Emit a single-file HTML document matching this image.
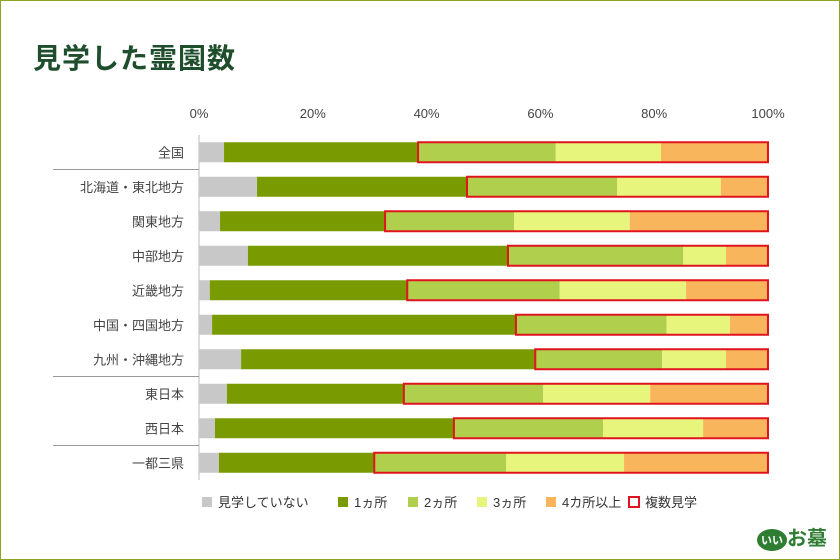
<!DOCTYPE html>
<html><head><meta charset="utf-8"><style>
body{margin:0;background:#fff;}
#wrap{position:relative;width:838px;height:558px;border:1px solid #8fa31f;background:#fff;overflow:hidden;font-family:"Liberation Sans","Noto Sans CJK JP",sans-serif;}
#title{position:absolute;left:32px;top:36px;font-size:28px;font-weight:bold;color:#1f4e2c;letter-spacing:1px;}
#logo{position:absolute;right:12px;bottom:8px;font-size:20px;font-weight:bold;color:#2f7d32;}
</style></head><body>
<div id="wrap">
<div id="title">見学した霊園数</div>
<svg id="chart" width="838" height="558" style="position:absolute;left:0;top:0"></svg>
<div id="logo"><span style="display:inline-block;background:#2f7d32;color:#fff;border-radius:50%;font-size:11px;padding:3px 4px;vertical-align:middle">いい</span>お墓</div>
</div>
<script>
const categories=["全国","北海道・東北地方","関東地方","中部地方","近畿地方","中国・四国地方","九州・沖縄地方","東日本","西日本","一都三県"];
const none=[4.4,10.2,3.7,8.6,1.9,2.3,7.4,4.9,2.8,3.5];
const one=[34.1,36.9,29.0,45.7,34.7,53.4,51.7,31.1,42.0,27.3];
const two=[24.2,26.4,22.7,30.8,26.8,26.5,22.3,24.5,26.2,23.2];
const three=[18.5,18.2,20.3,7.5,22.2,11.1,11.2,18.8,17.6,20.7];
const four=[18.8,8.3,24.3,7.4,14.4,6.7,7.4,20.7,11.4,25.3];
const ticks=[0,20,40,60,80,100];
const series=[none,one,two,three,four];
const names=["none","one","two","three","four-plus"];
const colors=["#c8c8c8","#7a9a01","#b0cf4c","#e8f57c","#f8b55c"];
const NS="http://www.w3.org/2000/svg";
const svg=document.getElementById('chart');
const x0=198,x1=767,top0=134,rowH=34.5;
const xs=v=>x0+(x1-x0)*v/100;
const yc=i=>top0+rowH*(i+0.5);
function mk(t,a){const e=document.createElementNS(NS,t);for(const k in a)e.setAttribute(k,a[k]);svg.appendChild(e);return e;}
ticks.forEach(t=>{const e=mk('text',{x:xs(t),y:117,'text-anchor':'middle','font-size':13,fill:'#444'});e.textContent=t+'%';

});
const ax=mk('line',{x1:x0,y1:top0,x2:x0,y2:top0+rowH*10,stroke:'#bbb'});


[1,7,9].forEach(k=>{const l=mk('line',{x1:52,x2:x0,y1:top0+rowH*k,y2:top0+rowH*k,stroke:'#999'});

});
categories.forEach((c,i)=>{
 const t=mk('text',{x:183,y:yc(i)+5,'text-anchor':'end','font-size':13,fill:'#444'});t.textContent=c;
 
 
 let acc=0;
 series.forEach((s,j)=>{const r=mk('rect',{x:xs(acc),y:yc(i)-10,width:xs(acc+s[i])-xs(acc),height:20,fill:colors[j]});
  
  
  acc+=s[i];});
 const st=none[i]+one[i];
 const b=mk('rect',{x:xs(st),y:yc(i)-10,width:xs(100)-xs(st),height:20,fill:'none',stroke:'#e0141e','stroke-width':2});
 
 
});
const leg=[["見学していない",colors[0]],["1ヵ所",colors[1]],["2ヵ所",colors[2]],["3ヵ所",colors[3]],["4カ所以上",colors[4]],["複数見学",null]];
const lx=[201,337,407,476,545,628];
leg.forEach((l,k)=>{
 const r=mk('rect',l[1]?{x:lx[k],y:496,width:10,height:10,fill:l[1]}:{x:lx[k],y:496,width:10,height:10,fill:'none',stroke:'#e0141e','stroke-width':2});
 
 
 const t=mk('text',{x:lx[k]+16,y:506,'font-size':13,fill:'#333'});t.textContent=l[0];
 
 
});
</script>
</body></html>
